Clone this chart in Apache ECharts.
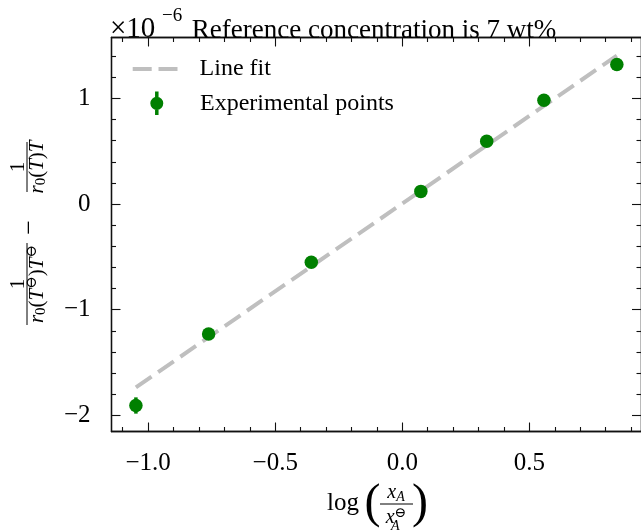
<!DOCTYPE html>
<html><head><meta charset="utf-8">
<script src="https://cdn.jsdelivr.net/npm/echarts@6/dist/echarts.min.js"></script>
<style>html,body{margin:0;padding:0;background:#fff}#c{width:641px;height:532px}</style>
</head><body><div id="c"></div>
<script>
// ---- data ----
const xVals = [-1.048, -0.762, -0.358, 0.073, 0.332, 0.557, 0.844];
const yVals = [-1.906, -1.229, -0.551, 0.120, 0.595, 0.983, 1.320];
const yErr  = [0.077, 0.03, 0.03, 0.03, 0.03, 0.03, 0.03];
const fitX = [-1.048, 0.844];
const fitY = [-1.735, 1.405];
const xMajorTicks = [-1.0, -0.5, 0.0, 0.5];
const xTickLabels = ['−1.0', '−0.5', '0.0', '0.5'];
const xMinorTicks = [-1.1, -0.9, -0.8, -0.7, -0.6, -0.4, -0.3, -0.2, -0.1, 0.1, 0.2, 0.3, 0.4, 0.6, 0.7, 0.8, 0.9];
const yMajorTicks = [-2, -1, 0, 1];
const yTickLabels = ['−2', '−1', '0', '1'];
const yMinorTicks = [-1.8, -1.6, -1.4, -1.2, -0.8, -0.6, -0.4, -0.2, 0.2, 0.4, 0.6, 0.8, 1.2, 1.4];
const titleText = 'Reference concentration is 7 wt%';
const seriesNames = ['Line fit', 'Experimental points'];

const X_MIN = -1.144, X_MAX = 0.939, Y_MIN = -2.152, Y_MAX = 1.576;
const FONT = '"Liberation Serif", "DejaVu Serif", serif';
const GREEN = '#008000', GREY = '#bfbfbf';

function lookup(ticks, labels, v) {
  const i = ticks.findIndex(t => Math.abs(t - v) < 1e-9);
  return i >= 0 ? labels[i] : '';
}
function axisDef(kind, pos, ticks, len, labels) {
  const isX = kind === 'x';
  return {
    type: 'value', position: pos,
    min: isX ? X_MIN : Y_MIN, max: isX ? X_MAX : Y_MAX,
    axisLine: { show: true, onZero: false, lineStyle: { color: '#111', width: 1.3 } },
    axisTick: { show: true, inside: true, length: len, customValues: ticks, lineStyle: { color: '#111', width: 1.1 } },
    axisLabel: labels ? {
      show: true, customValues: ticks, fontFamily: FONT, fontSize: 25, color: '#000',
      margin: isX ? 19 : 21,
      padding: isX ? 0 : [7, 0, 0, 0],
      formatter: v => lookup(ticks, labels, v)
    } : { show: false },
    splitLine: { show: false }, minorTick: { show: false }
  };
}

const chart = echarts.init(document.getElementById('c'), null, { renderer: 'canvas' });

const rich = {
  i: { fontFamily: FONT, fontStyle: 'italic', fontSize: 21, color: '#000' },
  r: { fontFamily: FONT, fontSize: 21, color: '#000' },
  sub: { fontFamily: FONT, fontSize: 15, color: '#000', padding: [9, 0, 0, 0] },
  sup: { fontFamily: FONT, fontSize: 15, color: '#777', padding: [0, 0, 10, 0] }
};

const option = {
  animation: false,
  backgroundColor: '#fff',
  title: {
    text: titleText, left: 374, top: 17, textAlign: 'center', padding: 0,
    textStyle: { fontFamily: FONT, fontSize: 27, fontWeight: 'normal', color: '#000' }
  },
  grid: { left: 111.5, top: 37.5, width: 538, height: 394, containLabel: false },
  xAxis: [
    axisDef('x', 'bottom', xMajorTicks, 9, xTickLabels),
    axisDef('x', 'bottom', xMinorTicks, 4.5, null),
    axisDef('x', 'top', xMajorTicks, 9, null),
    axisDef('x', 'top', xMinorTicks, 4.5, null)
  ],
  yAxis: [
    axisDef('y', 'left', yMajorTicks, 9, yTickLabels),
    axisDef('y', 'left', yMinorTicks, 4.5, null),
    axisDef('y', 'right', yMajorTicks, 9, null),
    axisDef('y', 'right', yMinorTicks, 4.5, null)
  ],
  legend: [
    {
      data: [seriesNames[0]], left: 132.7, top: 57, padding: 0, selectedMode: false,
      itemWidth: 45, itemHeight: 4, icon: 'path://M0,0H19V4H0Z M25.8,0H44.8V4H25.8Z',
      textStyle: { fontFamily: FONT, fontSize: 24, color: '#000', padding: [0, 0, 0, 17] }
    },
    {
      data: [seriesNames[1]], left: 150.3, top: 91.3, padding: 0, selectedMode: false,
      itemWidth: 13, itemHeight: 23.4,
      icon: 'path://M0,11.7a6.5,6.5 0 1,1 13,0a6.5,6.5 0 1,1 -13,0Z M4.75,0H8.25V23.4H4.75Z',
      textStyle: { fontFamily: FONT, fontSize: 24, color: '#000', padding: [0, 0, 0, 31.7] }
    }
  ],
  series: [
    {
      name: seriesNames[0], type: 'line', xAxisIndex: 0, yAxisIndex: 0,
      data: fitX.map((x, i) => [x, fitY[i]]), showSymbol: false, symbol: 'none',
      color: GREY, itemStyle: { color: GREY },
      lineStyle: { color: GREY, width: 4, type: [19, 8], cap: 'butt' }, z: 2, silent: true
    },
    {
      name: 'Experimental points error', type: 'custom', xAxisIndex: 0, yAxisIndex: 0,
      data: xVals.map((x, i) => [x, yVals[i] - yErr[i], yVals[i] + yErr[i]]),
      encode: { x: 0, y: [1, 2] }, z: 3, silent: true,
      renderItem: (params, api) => {
        const p1 = api.coord([api.value(0), api.value(1)]);
        const p2 = api.coord([api.value(0), api.value(2)]);
        return { type: 'line', shape: { x1: p1[0], y1: p1[1], x2: p2[0], y2: p2[1] },
                 style: { stroke: GREEN, lineWidth: 3.5 } };
      }
    },
    {
      name: seriesNames[1], type: 'scatter', xAxisIndex: 0, yAxisIndex: 0,
      data: xVals.map((x, i) => [x, yVals[i]]), symbol: 'circle', symbolSize: 13.5,
      color: GREEN, itemStyle: { color: GREEN, opacity: 1 }, z: 4, silent: true
    }
  ],
  graphic: [
    // offset text ×10^-6
    { type: 'text', x: 110, y: 29.5, style: { text: '×10', font: '29px ' + FONT, fill: '#000', align: 'left', verticalAlign: 'middle' } },
    { type: 'text', x: 162, y: 16, style: { text: '−6', font: '19px ' + FONT, fill: '#000', align: 'left', verticalAlign: 'middle' } },
    // y-axis label (rotated)
    {
      type: 'group', x: 27, y: 233.5, rotation: Math.PI / 2,
      children: [
        { type: 'line', shape: { x1: -91.5, y1: 0, x2: -9.5, y2: 0 }, style: { stroke: '#000', lineWidth: 1 } },
        { type: 'text', x: -50.5, y: -9, style: { text: '1', font: '21px ' + FONT, fill: '#000', align: 'center', verticalAlign: 'middle' } },
        { type: 'text', x: -50.5, y: 10, style: { text: '{i|r}{sub|0}{r|(}{i|T}{sup|⊖}{r|)}{i|T}{sup|⊖}', rich: rich, align: 'center', verticalAlign: 'middle' } },
        { type: 'text', x: 6, y: 3, style: { text: '−', font: '26px ' + FONT, fill: '#000', align: 'center', verticalAlign: 'middle' } },
        { type: 'line', shape: { x1: 41.5, y1: 0, x2: 91.5, y2: 0 }, style: { stroke: '#000', lineWidth: 1 } },
        { type: 'text', x: 66.5, y: -9, style: { text: '1', font: '21px ' + FONT, fill: '#000', align: 'center', verticalAlign: 'middle' } },
        { type: 'text', x: 66.5, y: 10, style: { text: '{i|r}{sub|0}{r|(}{i|T}{r|)}{i|T}', rich: rich, align: 'center', verticalAlign: 'middle' } }
      ]
    },
    // x-axis label
    {
      type: 'group', x: 0, y: 0,
      children: [
        { type: 'text', x: 327, y: 503, style: { text: 'log', font: '25px ' + FONT, fill: '#000', align: 'left', verticalAlign: 'middle' } },
        { type: 'text', x: 372.5, y: 504, style: { text: '(', font: '48px ' + FONT, fill: '#000', align: 'center', verticalAlign: 'middle' } },
        { type: 'text', x: 396, y: 493, style: { text: '{i|x}{sub|A}', rich: { i: { fontFamily: FONT, fontStyle: 'italic', fontSize: 20, color: '#000' }, sub: { fontFamily: FONT, fontStyle: 'italic', fontSize: 14, color: '#000', padding: [8, 0, 0, 0] } }, align: 'center', verticalAlign: 'middle' } },
        { type: 'line', shape: { x1: 380, y1: 504, x2: 413, y2: 504 }, style: { stroke: '#000', lineWidth: 1 } },
        { type: 'text', x: 396, y: 518, style: { text: '{i|x}{sup|⊖}', rich: { i: { fontFamily: FONT, fontStyle: 'italic', fontSize: 20, color: '#000' }, sup: { fontFamily: FONT, fontSize: 14, color: '#777', padding: [0, 0, 10, 0] } }, align: 'center', verticalAlign: 'middle' } },
        { type: 'text', x: 391, y: 526, style: { text: 'A', font: 'italic 14px ' + FONT, fill: '#000', align: 'left', verticalAlign: 'middle' } },
        { type: 'text', x: 420, y: 504, style: { text: ')', font: '48px ' + FONT, fill: '#000', align: 'center', verticalAlign: 'middle' } }
      ]
    }
  ]
};
chart.setOption(option);
</script>
</body></html>
